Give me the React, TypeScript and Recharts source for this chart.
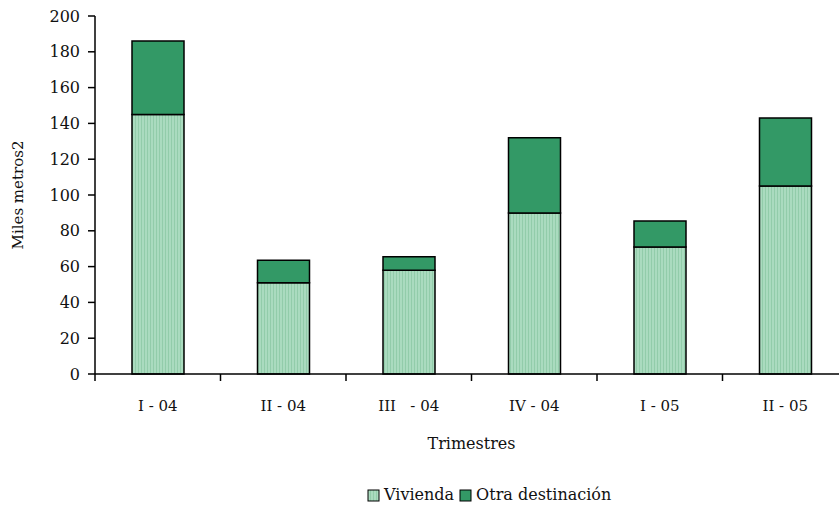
import { BarChart, Bar, XAxis, YAxis, Label } from 'recharts'

const trimestres = ['I - 04', 'II - 04', 'III   - 04', 'IV - 04', 'I - 05', 'II - 05']
const vivienda = [145, 51, 58, 90, 71, 105]
const otraDestinacion = [41, 12.5, 7.5, 42, 14.5, 38]
const yTicks = [0, 20, 40, 60, 80, 100, 120, 140, 160, 180, 200]

const data = trimestres.map((t, i) => ({
  trimestre: t,
  vivienda: vivienda[i],
  otra: otraDestinacion[i],
}))

const FONT = '"DejaVu Serif", serif'
const LIGHT = '#aadbbf'
const DARK = '#339966'
const BAND = (848 - 95) / trimestres.length

function XTick(props: any) {
  const { x, y, payload } = props
  const left = x - BAND / 2
  return (
    <g>
      <line x1={left} y1={y - 8} x2={left} y2={y - 1} stroke="#000" strokeWidth={1.5} />
      <text
        x={x}
        y={y + 29}
        textAnchor="middle"
        fontFamily={FONT}
        fontSize={15}
        fill="#111"
        style={{ whiteSpace: 'pre' }}
      >
        {payload.value}
      </text>
    </g>
  )
}

function LegendBox() {
  return (
    <div
      style={{
        position: 'absolute',
        top: 485,
        left: 367,
        display: 'flex',
        fontFamily: FONT,
        fontSize: 16,
        color: '#111',
        gap: 5,
      }}
    >
      <span style={{ display: 'flex', alignItems: 'center' }}>
        <svg width={14} height={14} style={{ marginRight: 3 }}>
          <rect x={1} y={2} width={11} height={11} fill="url(#stripes)" stroke="#000" />
        </svg>
        Vivienda
      </span>
      <span style={{ display: 'flex', alignItems: 'center' }}>
        <svg width={14} height={14} style={{ marginRight: 3 }}>
          <rect x={1} y={2} width={11} height={11} fill={DARK} stroke="#000" />
        </svg>
        Otra destinación
      </span>
    </div>
  )
}

export default function App() {
  return (
    <div
      style={{
        position: 'fixed',
        top: 0,
        left: 0,
        width: 839,
        height: 506,
        overflow: 'hidden',
        background: '#fff',
      }}
    >
      <BarChart
        width={848}
        height={506}
        data={data}
        margin={{ top: 16, right: 0, bottom: 0, left: 0 }}
        barCategoryGap={0}
      >
        <defs>
          <pattern id="stripes" width={3} height={4} patternUnits="userSpaceOnUse">
            <rect width={3} height={4} fill={LIGHT} />
            <rect width={1} height={4} fill="#92ccaa" />
          </pattern>
        </defs>
        <XAxis
          dataKey="trimestre"
          tick={<XTick />}
          tickLine={false}
          axisLine={{ stroke: '#000', strokeWidth: 1.5 }}
          height={132}
          interval={0}
        >
          <Label
            value="Trimestres"
            position="insideTop"
            offset={64}
            style={{ fontFamily: FONT, fontSize: 16, fill: '#111' }}
          />
        </XAxis>
        <YAxis
          domain={[0, 200]}
          ticks={yTicks}
          width={95}
          tickSize={7}
          tickLine={{ stroke: '#000', strokeWidth: 1.5 }}
          axisLine={{ stroke: '#000', strokeWidth: 1.5 }}
          tick={{ fontFamily: FONT, fontSize: 16, fill: '#111', dx: -6 }}
          interval={0}
        >
          <Label
            value="Miles metros2"
            angle={-90}
            position="insideLeft"
            offset={18}
            style={{ fontFamily: FONT, fontSize: 15, fill: '#111', textAnchor: 'middle' }}
          />
        </YAxis>
        <Bar
          dataKey="vivienda"
          stackId="a"
          fill="url(#stripes)"
          stroke="#000"
          strokeWidth={1.5}
          barSize={52}
          isAnimationActive={false}
        />
        <Bar
          dataKey="otra"
          stackId="a"
          fill={DARK}
          stroke="#000"
          strokeWidth={1.5}
          barSize={52}
          isAnimationActive={false}
        />
      </BarChart>
      <LegendBox />
    </div>
  )
}
